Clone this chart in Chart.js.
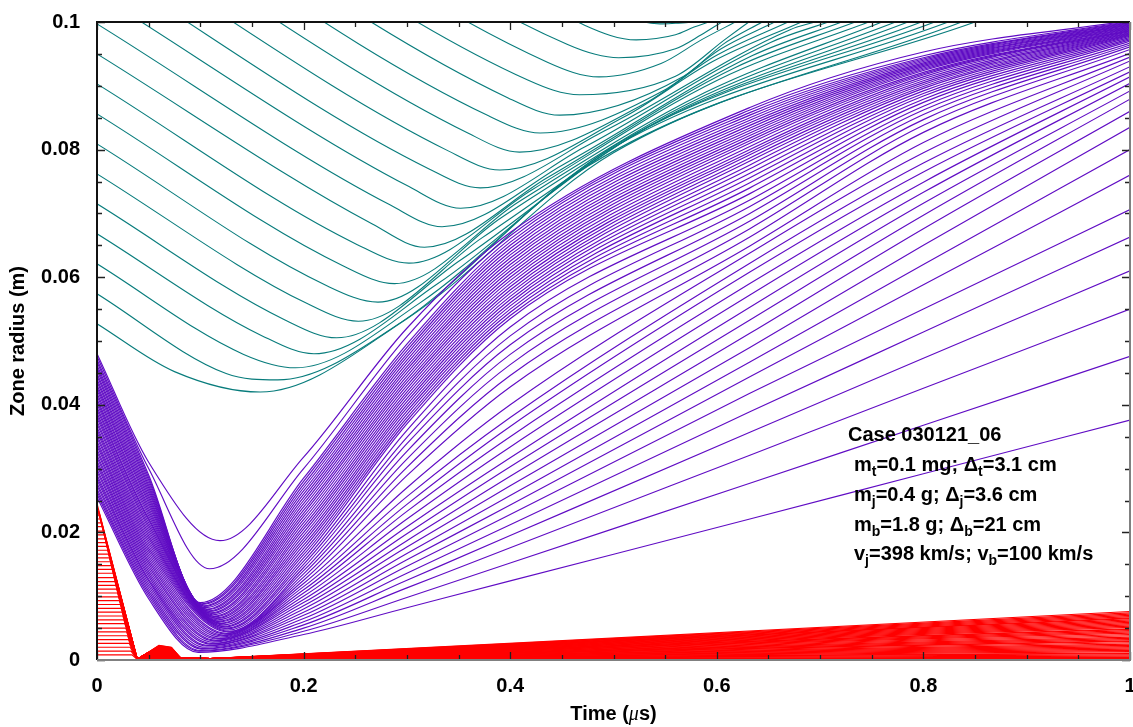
<!DOCTYPE html>
<html>
<head>
<meta charset="utf-8">
<title>Zone radius vs time</title>
<script src="https://cdn.jsdelivr.net/npm/chart.js@4.4.1/dist/chart.umd.min.js"></script>
<style>
  html, body { margin: 0; padding: 0; background: #fff; }
  #wrap { width: 1133px; height: 727px; }
</style>
</head>
<body>
<div id="wrap"><canvas id="zoneChart" width="1133" height="727"></canvas></div>
<script>
// axis ticks
const timeTicks = [0, 0.2, 0.4, 0.6, 0.8, 1];
const timeTickLabels = ["0", "0.2", "0.4", "0.6", "0.8", "1"];
const radiusTicks = [0, 0.02, 0.04, 0.06, 0.08, 0.1];
const radiusTickLabels = ["0", "0.02", "0.04", "0.06", "0.08", "0.1"];

// teal zones (outer target), innermost first
const tealR0 = [0.0527, 0.0574, 0.0621, 0.0668, 0.0715, 0.0762, 0.0809, 0.0856, 0.0903, 0.0950, 0.0997,
  0.1044, 0.1091, 0.1138, 0.1185, 0.1232, 0.1279, 0.1326, 0.1373, 0.1420, 0.1467, 0.1514];
const tealKneeT = [0.075, 0.125, 0.142, 0.160, 0.182, 0.203, 0.222, 0.238, 0.252, 0.267, 0.284,
  0.302, 0.321, 0.340, 0.359, 0.379, 0.398, 0.417, 0.436, 0.455, 0.472, 0.495];
const tealKneeR = [0.0452, 0.0449, 0.0479, 0.0508, 0.0533, 0.0559, 0.0587, 0.0618, 0.0651, 0.0683, 0.0713,
  0.0742, 0.0770, 0.0798, 0.0826, 0.0853, 0.0881, 0.0909, 0.0937, 0.0965, 0.0995, 0.1019];
const tealMinT = [0.158, 0.175, 0.192, 0.210, 0.232, 0.253, 0.272, 0.288, 0.302, 0.317, 0.334,
  0.352, 0.371, 0.390, 0.409, 0.429, 0.448, 0.467, 0.486, 0.505, 0.522, 0.545];
const tealMinR = [0.0420, 0.0439, 0.0458, 0.0480, 0.0505, 0.0531, 0.0561, 0.0590, 0.0622, 0.0647, 0.0679,
  0.0708, 0.0740, 0.0768, 0.0796, 0.0826, 0.0854, 0.0886, 0.0914, 0.0944, 0.0972, 0.0997];
const tealRise1T = [0.300, 0.295, 0.312, 0.330, 0.352, 0.373, 0.392, 0.408, 0.422, 0.437, 0.454,
  0.472, 0.491, 0.510, 0.529, 0.549, 0.568, 0.560, 0.546, 0.560, 0.560, 0.560];
const tealRise1R = [0.0535, 0.0530, 0.0559, 0.0590, 0.0627, 0.0662, 0.0694, 0.0718, 0.0738, 0.0757, 0.0779,
  0.0804, 0.0829, 0.0851, 0.0871, 0.0893, 0.0915, 0.0915, 0.0935, 0.0958, 0.0980, 0.0998];
const tealRise2T = [0.500, 0.475, 0.492, 0.510, 0.532, 0.553, 0.572, 0.588, 0.602, 0.617, 0.634,
  0.652, 0.671, 0.596, 0.599, 0.603, 0.606, 0.609, 0.585, 0.585, 0.578, 0.570];
const tealRise2R = [0.0795, 0.0774, 0.0796, 0.0815, 0.0834, 0.0853, 0.0872, 0.0889, 0.0910, 0.0928, 0.0947,
  0.0968, 0.0988, 0.0938, 0.0947, 0.0957, 0.0965, 0.0974, 0.0972, 0.0980, 0.0992, 0.0999];
const tealExitT = [0.850, 0.837, 0.824, 0.811, 0.798, 0.785, 0.773, 0.760, 0.747, 0.734, 0.721,
  0.708, 0.695, 0.682, 0.669, 0.656, 0.644, 0.631, 0.618, 0.605, 0.592, 0.580];

// purple zones (jet), outermost first
const purpleR0 = [0.0480, 0.0476, 0.0471, 0.0467, 0.0462, 0.0458, 0.0454, 0.0449, 0.0445, 0.0440, 0.0436,
  0.0431, 0.0427, 0.0423, 0.0418, 0.0414, 0.0409, 0.0405, 0.0401, 0.0396, 0.0392, 0.0387, 0.0383, 0.0379,
  0.0374, 0.0370, 0.0365, 0.0361, 0.0357, 0.0352, 0.0348, 0.0343, 0.0339, 0.0335, 0.0330, 0.0326, 0.0321,
  0.0317, 0.0312, 0.0308, 0.0304, 0.0299, 0.0295, 0.0290, 0.0286, 0.0282, 0.0277, 0.0273, 0.0268, 0.0264,
  0.0260, 0.0255];
const purpleR005 = [0.0310, 0.0300, 0.0290, 0.0286, 0.0282, 0.0278, 0.0274, 0.0270, 0.0266, 0.0262, 0.0258,
  0.0254, 0.0250, 0.0246, 0.0242, 0.0238, 0.0234, 0.0230, 0.0226, 0.0222, 0.0219, 0.0215, 0.0211, 0.0207,
  0.0203, 0.0199, 0.0195, 0.0191, 0.0187, 0.0183, 0.0179, 0.0175, 0.0171, 0.0167, 0.0163, 0.0159, 0.0155,
  0.0151, 0.0147, 0.0143, 0.0139, 0.0135, 0.0131, 0.0127, 0.0124, 0.0120, 0.0116, 0.0112, 0.0108, 0.0104,
  0.0100, 0.0096];
const purpleMinT = [0.119, 0.109, 0.100, 0.101, 0.102, 0.103, 0.104, 0.105, 0.106, 0.107, 0.108,
  0.109, 0.110, 0.111, 0.112, 0.113, 0.114, 0.115, 0.116, 0.117, 0.118, 0.119, 0.120, 0.121,
  0.122, 0.123, 0.124, 0.125, 0.126, 0.127, 0.128, 0.127, 0.1255, 0.124, 0.1225, 0.121, 0.1195,
  0.118, 0.1165, 0.115, 0.1135, 0.112, 0.1105, 0.109, 0.1075, 0.106, 0.1045, 0.103, 0.1015, 0.100,
  0.099, 0.098];
const purpleMinR = [0.0187, 0.0143, 0.0090, 0.0088, 0.0087, 0.0085, 0.0084, 0.0082, 0.0080, 0.0079, 0.0077,
  0.0076, 0.0074, 0.0073, 0.0071, 0.0069, 0.0068, 0.0066, 0.0065, 0.0063, 0.0061, 0.0060, 0.0058, 0.0057,
  0.0055, 0.0053, 0.0052, 0.0050, 0.0049, 0.0047, 0.0045, 0.0044, 0.0042, 0.0041, 0.0039, 0.0038, 0.0036,
  0.0034, 0.0033, 0.0031, 0.0030, 0.0028, 0.0026, 0.0025, 0.0023, 0.0022, 0.0020, 0.0018, 0.0017, 0.0015,
  0.0014, 0.0012];
const purpleR02 = [0.0318, 0.0300, 0.0285, 0.0280, 0.0275, 0.0270, 0.0265, 0.0260, 0.0255, 0.0250, 0.0245,
  0.0240, 0.0235, 0.0230, 0.0225, 0.0220, 0.0215, 0.0210, 0.0205, 0.0200, 0.0195, 0.0190, 0.0185, 0.0180,
  0.0175, 0.0170, 0.0165, 0.0160, 0.0155, 0.0150, 0.0145, 0.0140, 0.0135, 0.0130, 0.0125, 0.0120, 0.0115,
  0.0110, 0.0105, 0.0100, 0.0095, 0.0090, 0.0085, 0.0080, 0.0075, 0.0070, 0.0065, 0.0060, 0.0055, 0.0050,
  0.0045, 0.0040];
const purpleR03 = [0.0520, 0.0507, 0.0495, 0.0490, 0.0485, 0.0480, 0.0475, 0.0470, 0.0465, 0.0460, 0.0455,
  0.0450, 0.0445, 0.0440, 0.0435, 0.0430, 0.0425, 0.0420, 0.0415, 0.0410, 0.0405, 0.0400, 0.0395, 0.0390,
  0.0385, 0.0380, 0.0375, 0.0370, 0.0360, 0.0349, 0.0339, 0.0327, 0.0315, 0.0302, 0.0289, 0.0270, 0.0256,
  0.0244, 0.0233, 0.0221, 0.0209, 0.0198, 0.0187, 0.0177, 0.0167, 0.0157, 0.0147, 0.0136, 0.0125, 0.0113,
  0.0098, 0.0082];
const purpleR04 = [0.0670, 0.0665, 0.0660, 0.0655, 0.0650, 0.0645, 0.0640, 0.0635, 0.0630, 0.0625, 0.0620,
  0.0615, 0.0610, 0.0605, 0.0600, 0.0595, 0.0590, 0.0585, 0.0580, 0.0575, 0.0570, 0.0565, 0.0560, 0.0555,
  0.0550, 0.0545, 0.0540, 0.0535, 0.0522, 0.0508, 0.0494, 0.0479, 0.0463, 0.0446, 0.0428, 0.0400, 0.0380,
  0.0366, 0.0350, 0.0334, 0.0317, 0.0303, 0.0288, 0.0273, 0.0258, 0.0243, 0.0228, 0.0212, 0.0195, 0.0176,
  0.0152, 0.0124];
const purpleR063 = [0.0866, 0.0862, 0.0858, 0.0854, 0.0850, 0.0846, 0.0842, 0.0838, 0.0834, 0.0830, 0.0826,
  0.0822, 0.0818, 0.0814, 0.0810, 0.0805, 0.0800, 0.0796, 0.0792, 0.0787, 0.0782, 0.0776, 0.0770, 0.0763,
  0.0756, 0.0748, 0.0740, 0.0731, 0.0721, 0.0711, 0.0700, 0.0688, 0.0676, 0.0663, 0.0649, 0.0638, 0.0622,
  0.0608, 0.0590, 0.0572, 0.0553, 0.0533, 0.0512, 0.0490, 0.0467, 0.0444, 0.0418, 0.0389, 0.0357, 0.0321,
  0.0277, 0.0221];
const purpleR08 = [0.0953, 0.0947, 0.0944, 0.0942, 0.0940, 0.0938, 0.0936, 0.0934, 0.0932, 0.0930, 0.0928,
  0.0926, 0.0924, 0.0921, 0.0919, 0.0917, 0.0914, 0.0911, 0.0908, 0.0905, 0.0902, 0.0899, 0.0896, 0.0892,
  0.0888, 0.0884, 0.0879, 0.0874, 0.0868, 0.0862, 0.0855, 0.0847, 0.0838, 0.0827, 0.0811, 0.0795, 0.0779,
  0.0765, 0.0749, 0.0733, 0.0716, 0.0697, 0.0676, 0.0650, 0.0620, 0.0588, 0.0550, 0.0514, 0.0473, 0.0426,
  0.0368, 0.0292];
const purpleR10 = [0.1002, 0.1001, 0.1000, 0.0999, 0.0998, 0.0997, 0.0996, 0.0995, 0.0994, 0.0993, 0.0992,
  0.0991, 0.0990, 0.0989, 0.0988, 0.0987, 0.0986, 0.0985, 0.0984, 0.0983, 0.0982, 0.0981, 0.0980, 0.0979,
  0.0978, 0.0976, 0.0974, 0.0972, 0.0970, 0.0967, 0.0964, 0.0961, 0.0957, 0.0951, 0.0945, 0.0939, 0.0930,
  0.0922, 0.0914, 0.0904, 0.0892, 0.0879, 0.0860, 0.0835, 0.0800, 0.0760, 0.0706, 0.0663, 0.0610, 0.0550,
  0.0476, 0.0376];
const purpleLateT = [0.2, 0.3, 0.4, 0.632, 0.8, 1.0];

// red zones (inner target), outermost first
const redStart = [0.0245, 0.0239, 0.0233, 0.0227, 0.0221, 0.0215, 0.0209, 0.0202, 0.0196, 0.0190,
  0.0184, 0.0178, 0.0172, 0.0166, 0.0160, 0.0154, 0.0148, 0.0142, 0.0136, 0.0129,
  0.0123, 0.0117, 0.0111, 0.0105, 0.0099, 0.0093, 0.0087, 0.0081, 0.0075, 0.0069,
  0.0063, 0.0057, 0.0050, 0.0044, 0.0038, 0.0032, 0.0026, 0.0020, 0.0014, 0.0008];
const redHit = [0.0005, 0.0009, 0.0017, 0.0026, 0.0034, 0.0043, 0.0051, 0.0061, 0.0070, 0.0079,
  0.0087, 0.0096, 0.0104, 0.0113, 0.0121, 0.0130, 0.0139, 0.0147, 0.0156, 0.0166,
  0.0174, 0.0183, 0.0191, 0.0200, 0.0209, 0.0217, 0.0226, 0.0234, 0.0243, 0.0251,
  0.0260, 0.0269, 0.0279, 0.0287, 0.0296, 0.0304, 0.0313, 0.0321, 0.0330, 0.0339];
const redPeak = [0.00230, 0.00224, 0.00219, 0.00213, 0.00207, 0.00201, 0.00196, 0.00190, 0.00184, 0.00178,
  0.00173, 0.00167, 0.00161, 0.00155, 0.00150, 0.00144, 0.00138, 0.00132, 0.00127, 0.00121,
  0.00115, 0.00109, 0.00104, 0.00098, 0.00092, 0.00086, 0.00081, 0.00075, 0.00069, 0.00063,
  0.00058, 0.00052, 0.00046, 0.00040, 0.00035, 0.00029, 0.00023, 0.00017, 0.00012, 0.00006];
const redShoulder = [0.00200, 0.00195, 0.00190, 0.00185, 0.00180, 0.00175, 0.00170, 0.00165, 0.00160, 0.00155,
  0.00150, 0.00145, 0.00140, 0.00135, 0.00130, 0.00125, 0.00120, 0.00115, 0.00110, 0.00105,
  0.00100, 0.00095, 0.00090, 0.00085, 0.00080, 0.00075, 0.00070, 0.00065, 0.00060, 0.00055,
  0.00050, 0.00045, 0.00040, 0.00035, 0.00030, 0.00025, 0.00020, 0.00015, 0.00010, 0.00005];
const redEnd = [0.0076, 0.0074, 0.0072, 0.0070, 0.0068, 0.0066, 0.0065, 0.0063, 0.0061, 0.0059,
  0.0057, 0.0055, 0.0053, 0.0051, 0.0049, 0.0048, 0.0046, 0.0044, 0.0042, 0.0040,
  0.0038, 0.0036, 0.0034, 0.0032, 0.0030, 0.0029, 0.0027, 0.0025, 0.0023, 0.0021,
  0.0019, 0.0017, 0.0015, 0.0013, 0.0011, 0.0010, 0.0008, 0.0006, 0.0004, 0.0002];
// shared times of the collapse / bounce of the red zones
const redCollapseT = 0.039, redCollapseR = 0.0001;
const redRiseT = 0.048, redRiseR = 0.0010;
const redPeakT = 0.060, redShoulderT = 0.072;
const redDropT = 0.081, redDropR = 0.0003;
const redFlatT = 0.110, redFlatR = 0.0002;

const FONT = '"Liberation Sans", Arial, Helvetica, sans-serif';
const TEAL = "#087c7c";
const PURPLE = "#600cc4";
const RED = "#ff0000";

const datasets = [];

redStart.forEach((r0, i) => {
  datasets.push({
    data: [
      { x: 0, y: r0 },
      { x: redHit[i], y: r0 },
      { x: redCollapseT, y: redCollapseR },
      { x: redRiseT, y: Math.min(redRiseR, redPeak[i]) },
      { x: redPeakT, y: redPeak[i] },
      { x: redShoulderT, y: redShoulder[i] },
      { x: redDropT, y: redDropR },
      { x: redFlatT, y: redFlatR },
      { x: 1, y: redEnd[i] },
    ],
    borderColor: RED,
    borderWidth: 1.2,
    tension: 0,
    order: 0,
  });
});

const purpleLate = [purpleR02, purpleR03, purpleR04, purpleR063, purpleR08, purpleR10];
purpleR0.forEach((r0, i) => {
  const pts = [
    { x: 0, y: r0 },
    { x: 0.05, y: purpleR005[i] },
    { x: purpleMinT[i], y: purpleMinR[i] },
  ];
  purpleLateT.forEach((t, j) => pts.push({ x: t, y: purpleLate[j][i] }));
  datasets.push({
    data: pts,
    borderColor: PURPLE,
    borderWidth: 1.15,
    cubicInterpolationMode: "monotone",
    order: 1,
  });
});

tealR0.forEach((r0, k) => {
  datasets.push({
    data: [
      { x: 0, y: r0 },
      { x: tealKneeT[k], y: tealKneeR[k] },
      { x: tealMinT[k], y: tealMinR[k] },
      { x: tealRise1T[k], y: tealRise1R[k] },
      { x: tealRise2T[k], y: tealRise2R[k] },
      { x: tealExitT[k], y: 0.1 },
    ],
    borderColor: TEAL,
    borderWidth: 1.1,
    cubicInterpolationMode: "monotone",
    order: 2,
  });
});

// inward ticks on all four sides plus the frame
const frameTicks = {
  id: "frameTicks",
  afterDatasetsDraw(chart) {
    const { ctx, chartArea: a, scales: { x, y } } = chart;
    ctx.save();
    ctx.strokeStyle = "#222";
    ctx.lineWidth = 1.3;
    ctx.beginPath();
    for (let k = 0; k <= 20; k++) {
      const px = Math.round(x.getPixelForValue(k * 0.05)) + 0.5;
      const len = k % 4 === 0 ? 8 : 5;
      ctx.moveTo(px, a.bottom); ctx.lineTo(px, a.bottom - len);
      ctx.moveTo(px, a.top); ctx.lineTo(px, a.top + len);
    }
    for (let k = 0; k <= 20; k++) {
      const py = Math.round(y.getPixelForValue(k * 0.005)) + 0.5;
      const len = k % 4 === 0 ? 8 : 5;
      ctx.moveTo(a.left, py); ctx.lineTo(a.left + len, py);
      ctx.moveTo(a.right, py); ctx.lineTo(a.right - len, py);
    }
    ctx.stroke();

    ctx.lineWidth = 2;
    ctx.strokeStyle = "#111";
    ctx.beginPath();
    ctx.moveTo(a.left, a.bottom); ctx.lineTo(a.left, a.top); ctx.lineTo(a.right, a.top);
    ctx.stroke();
    ctx.strokeStyle = "#808080";
    ctx.beginPath();
    ctx.moveTo(a.right, a.top); ctx.lineTo(a.right, a.bottom); ctx.lineTo(a.left, a.bottom);
    ctx.stroke();
    ctx.restore();
  },
};

// x axis title with italic mu, and the case note
const noteLines = [
  [["m", 0], ["t", 1], ["=0.1 mg; \u0394", 0], ["t", 1], ["=3.1 cm", 0]],
  [["m", 0], ["j", 1], ["=0.4 g; \u0394", 0], ["j", 1], ["=3.6 cm", 0]],
  [["m", 0], ["b", 1], ["=1.8 g; \u0394", 0], ["b", 1], ["=21 cm", 0]],
  [["v", 0], ["j", 1], ["=398 km/s; v", 0], ["b", 1], ["=100 km/s", 0]],
];

const textBits = {
  id: "textBits",
  afterDraw(chart) {
    const { ctx, chartArea: a, scales: { x, y } } = chart;
    ctx.save();
    ctx.fillStyle = "#000";
    ctx.textBaseline = "alphabetic";
    ctx.textAlign = "left";

    // "Time (μs)"
    const parts = [["Time (", "bold 20px " + FONT], ["\u03bc", "italic 20px \"Liberation Serif\", serif"], ["s)", "bold 20px " + FONT]];
    let total = 0;
    parts.forEach(([t, f]) => { ctx.font = f; total += ctx.measureText(t).width; });
    let cx = (a.left + a.right) / 2 - total / 2;
    parts.forEach(([t, f]) => { ctx.font = f; ctx.fillText(t, cx, 720); cx += ctx.measureText(t).width; });

    // case note
    const x0 = x.getPixelForValue(0.727);
    const y0 = y.getPixelForValue(0.0343);
    ctx.font = "bold 20px " + FONT;
    ctx.fillText("Case 030121_06", x0, y0);
    noteLines.forEach((segs, li) => {
      let px = x0 + 6;
      const py = y0 + 29.8 * (li + 1);
      segs.forEach(([t, sub]) => {
        ctx.font = sub ? "bold 14px " + FONT : "bold 20px " + FONT;
        ctx.fillText(t, px, sub ? py + 5 : py);
        px += ctx.measureText(t).width;
      });
    });
    ctx.restore();
  },
};

new Chart(document.getElementById("zoneChart").getContext("2d"), {
  type: "line",
  data: { datasets },
  options: {
    responsive: false,
    animation: false,
    events: [],
    layout: { padding: { top: 22, right: 3, left: 0, bottom: 0 } },
    elements: {
      point: { radius: 0 },
      line: { borderWidth: 1, fill: false },
    },
    plugins: {
      legend: { display: false },
      tooltip: { enabled: false },
    },
    scales: {
      x: {
        type: "linear",
        min: 0,
        max: 1,
        grid: { display: false, drawTicks: false },
        border: { display: false },
        afterBuildTicks: (s) => { s.ticks = timeTicks.map((v) => ({ value: v })); },
        afterFit: (s) => { s.height = 67; s.paddingLeft = 0; s.paddingRight = 0; },
        ticks: {
          padding: 14,
          color: "#000",
          maxRotation: 0,
          font: { family: FONT, size: 20, weight: "bold" },
          callback: (v, i) => timeTickLabels[i],
        },
      },
      y: {
        type: "linear",
        min: 0,
        max: 0.1,
        grid: { display: false, drawTicks: false },
        border: { display: false },
        afterBuildTicks: (s) => { s.ticks = radiusTicks.map((v) => ({ value: v })); },
        afterFit: (s) => { s.width = 97; s.paddingTop = 0; s.paddingBottom = 0; },
        ticks: {
          padding: 17,
          color: "#000",
          font: { family: FONT, size: 20, weight: "bold" },
          callback: (v, i) => radiusTickLabels[i],
        },
        title: {
          display: true,
          text: "Zone radius (m)",
          color: "#000",
          padding: { top: 6, bottom: 0 },
          font: { family: FONT, size: 20, weight: "bold" },
        },
      },
    },
  },
  plugins: [frameTicks, textBits],
});
</script>
</body>
</html>
